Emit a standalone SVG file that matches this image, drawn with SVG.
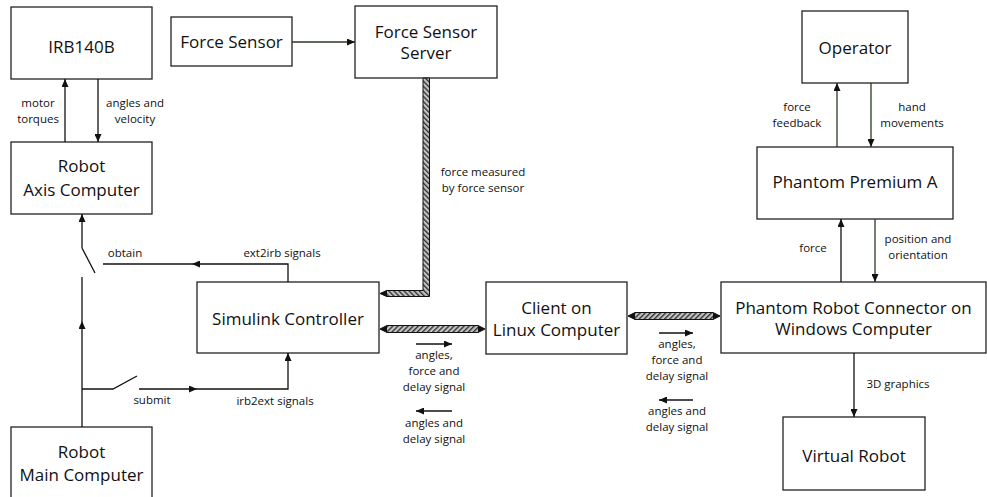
<svg xmlns="http://www.w3.org/2000/svg" width="987" height="497" viewBox="0 0 987 497">
  <defs>
    <marker id="arrow" viewBox="0 0 8 7" refX="8" refY="3.5" markerWidth="8" markerHeight="7" markerUnits="userSpaceOnUse" orient="auto">
      <path d="M0,0 L8,3.5 L0,7 z" fill="#111"/>
    </marker>
    <!-- hatch fills for the data links -->
    <pattern id="hatchA" patternUnits="userSpaceOnUse" width="3.6" height="3.6" patternTransform="rotate(45)">
      <rect width="3.6" height="3.6" fill="#c4c4c4"/>
      <rect width="1.4" height="3.6" fill="#333"/>
    </pattern>
    <pattern id="hatchB" patternUnits="userSpaceOnUse" width="3.6" height="3.6" patternTransform="rotate(-45)">
      <rect width="3.6" height="3.6" fill="#c4c4c4"/>
      <rect width="1.4" height="3.6" fill="#333"/>
    </pattern>
    <style>
      .box { fill: #fff; stroke: #222; stroke-width: 1.3; }
      .t { font-family: "Open Sans", "Liberation Sans", sans-serif; font-size: 17px; fill: #111; text-anchor: middle; }
      .s { font-family: "Open Sans", "Liberation Sans", sans-serif; font-size: 11.5px; fill: #111; text-anchor: middle; }
      .ln { fill: none; stroke: #111; stroke-width: 1.3; }
      .lg { fill: none; stroke: #2a3a20; stroke-width: 1.3; }
      .band { stroke: #111; stroke-width: 1; }
      .tip { fill: #111; }
    </style>
  </defs>

  <!-- nodes -->
  <g id="irb140b">
    <rect class="box" x="11" y="7" width="141" height="72"/>
    <text class="t" x="81.5" y="53">IRB140B</text>
  </g>
  <g id="force-sensor">
    <rect class="box" x="171" y="17" width="121" height="49"/>
    <text class="t" x="231.5" y="48">Force Sensor</text>
  </g>
  <g id="force-sensor-server">
    <rect class="box" x="355" y="6" width="142" height="72"/>
    <text class="t" x="426" y="38">Force Sensor</text>
    <text class="t" x="426" y="59">Server</text>
  </g>
  <g id="robot-axis-computer">
    <rect class="box" x="11" y="142" width="141" height="72"/>
    <text class="t" x="81.5" y="172">Robot</text>
    <text class="t" x="81.5" y="196">Axis Computer</text>
  </g>
  <g id="robot-main-computer">
    <rect class="box" x="11" y="427" width="141" height="80"/>
    <text class="t" x="81.5" y="458">Robot</text>
    <text class="t" x="81.5" y="481">Main Computer</text>
  </g>
  <g id="simulink-controller">
    <rect class="box" x="197" y="282" width="182" height="71"/>
    <text class="t" x="288" y="325">Simulink Controller</text>
  </g>
  <g id="client-linux">
    <rect class="box" x="486" y="282" width="141" height="72"/>
    <text class="t" x="556.5" y="314">Client on</text>
    <text class="t" x="556.5" y="336">Linux Computer</text>
  </g>
  <g id="phantom-robot-connector">
    <rect class="box" x="721" y="282" width="265" height="71"/>
    <text class="t" x="853.5" y="314">Phantom Robot Connector on</text>
    <text class="t" x="853.5" y="335">Windows Computer</text>
  </g>
  <g id="virtual-robot">
    <rect class="box" x="783" y="417" width="142" height="73"/>
    <text class="t" x="854" y="462">Virtual Robot</text>
  </g>
  <g id="operator">
    <rect class="box" x="802" y="11" width="106" height="72"/>
    <text class="t" x="855" y="54">Operator</text>
  </g>
  <g id="phantom-premium-a">
    <rect class="box" x="757" y="147" width="196" height="72"/>
    <text class="t" x="855" y="188">Phantom Premium A</text>
  </g>

  <!-- connectors -->
  <g id="connectors">
    <!-- force sensor to server -->
    <line class="lg" x1="292" y1="42" x2="355" y2="42" marker-end="url(#arrow)"/>

    <!-- robot arm and axis computer -->
    <line class="ln" x1="65" y1="142" x2="65" y2="79" marker-end="url(#arrow)"/>
    <line class="ln" x1="98" y1="79" x2="98" y2="142" marker-end="url(#arrow)"/>
    <text class="s" x="38" y="107">motor</text>
    <text class="s" x="38" y="123">torques</text>
    <text class="s" x="135" y="107">angles and</text>
    <text class="s" x="135" y="123">velocity</text>

    <!-- obtain switch -->
    <line class="ln" x1="82" y1="248" x2="82" y2="214" marker-end="url(#arrow)"/>
    <line class="ln" x1="82" y1="248" x2="95" y2="273"/>
    <line class="ln" x1="82" y1="427" x2="82" y2="321" marker-end="url(#arrow)"/>
    <line class="ln" x1="82" y1="321" x2="82" y2="277"/>
    <path class="ln" d="M288,282 V264 H192" marker-end="url(#arrow)"/>
    <line class="ln" x1="192" y1="264" x2="103" y2="264"/>
    <text class="s" x="125" y="257">obtain</text>
    <text class="s" x="282" y="257">ext2irb signals</text>

    <!-- submit switch -->
    <path class="ln" d="M82,389 H113 L137,376"/>
    <line class="ln" x1="139" y1="389" x2="197" y2="389" marker-end="url(#arrow)"/>
    <path class="ln" d="M197,389 H288 V353" marker-end="url(#arrow)"/>
    <text class="s" x="152" y="404">submit</text>
    <text class="s" x="275" y="405">irb2ext signals</text>

    <!-- force sensor server to simulink (data link) -->
    <polygon class="band" fill="url(#hatchB)" points="423,78 429.5,78 429.5,296.5 387,296.5 380,293.5 387,290.5 423,290.5"/>
    <polygon class="tip" points="380,293.5 387,290 387,297"/>
    <text class="s" x="483" y="176">force measured</text>
    <text class="s" x="483" y="192">by force sensor</text>

    <!-- simulink to linux client (data link) -->
    <polygon class="band" fill="url(#hatchA)" points="380,329 387,325.5 478,325.5 485,329 478,332.5 387,332.5"/>
    <polygon class="tip" points="380,329 387,325.5 387,332.5"/>
    <polygon class="tip" points="485,329 478,325.5 478,332.5"/>
    <line class="ln" x1="416" y1="344" x2="452" y2="344" marker-end="url(#arrow)"/>
    <text class="s" x="434" y="359">angles,</text>
    <text class="s" x="434" y="375">force and</text>
    <text class="s" x="434" y="391">delay signal</text>
    <line class="ln" x1="452" y1="411" x2="416" y2="411" marker-end="url(#arrow)"/>
    <text class="s" x="434" y="427">angles and</text>
    <text class="s" x="434" y="443">delay signal</text>

    <!-- linux client to phantom connector (data link) -->
    <polygon class="band" fill="url(#hatchA)" points="628,316 635,312.5 713,312.5 720,316 713,319.5 635,319.5"/>
    <polygon class="tip" points="628,316 635,312.5 635,319.5"/>
    <polygon class="tip" points="720,316 713,312.5 713,319.5"/>
    <line class="ln" x1="659" y1="333" x2="693" y2="333" marker-end="url(#arrow)"/>
    <text class="s" x="677" y="348">angles,</text>
    <text class="s" x="677" y="364">force and</text>
    <text class="s" x="677" y="380">delay signal</text>
    <line class="ln" x1="693" y1="400" x2="659" y2="400" marker-end="url(#arrow)"/>
    <text class="s" x="677" y="415">angles and</text>
    <text class="s" x="677" y="431">delay signal</text>

    <!-- operator and haptic device -->
    <line class="lg" x1="837" y1="147" x2="837" y2="83" marker-end="url(#arrow)"/>
    <line class="lg" x1="871" y1="83" x2="871" y2="147" marker-end="url(#arrow)"/>
    <text class="s" x="797" y="111">force</text>
    <text class="s" x="797" y="127">feedback</text>
    <text class="s" x="912" y="111">hand</text>
    <text class="s" x="912" y="127">movements</text>

    <!-- haptic device and connector -->
    <line class="ln" x1="841" y1="282" x2="841" y2="219" marker-end="url(#arrow)"/>
    <line class="lg" x1="875" y1="219" x2="875" y2="282" marker-end="url(#arrow)"/>
    <text class="s" x="813" y="252">force</text>
    <text class="s" x="918" y="243">position and</text>
    <text class="s" x="918" y="259">orientation</text>

    <!-- connector to virtual robot -->
    <line class="ln" x1="854" y1="353" x2="854" y2="417" marker-end="url(#arrow)"/>
    <text class="s" x="898" y="388">3D graphics</text>
  </g>
</svg>
